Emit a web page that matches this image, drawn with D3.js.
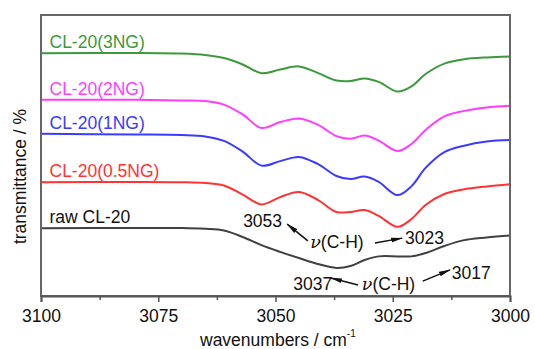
<!DOCTYPE html>
<html>
<head>
<meta charset="utf-8">
<script src="https://cdn.jsdelivr.net/npm/d3@7"></script>
<style>
  html, body { margin: 0; padding: 0; background: #fff; }
  svg { display: block; font-family: "Liberation Sans", Arial, sans-serif; }
</style>
</head>
<body>
<svg id="canvas" width="535" height="349"></svg>
<script>
// wavenumber grid (cm-1) shared by every spectrum
var wavenumbers = [3100, 3080, 3070, 3065, 3061, 3057, 3053, 3049, 3045, 3041, 3037,
  3034, 3031, 3028, 3024, 3021, 3018, 3014, 3010, 3005, 3000];

// transmittance (arbitrary, offset)
var rawCL20 = [24.1, 24.2, 24.2, 23.9, 23.3, 21.0, 18.1, 15.7, 13.5, 11.4, 10.0,
  10.7, 12.8, 14.1, 14.1, 14.1, 15.3, 17.8, 19.8, 20.8, 21.5];
var cl20ng05 = [40.5, 40.6, 40.5, 40.2, 39.3, 36.1, 32.6, 35.2, 37.0, 34.2, 29.9,
  29.9, 30.6, 28.5, 24.6, 27.4, 32.4, 36.3, 37.9, 39.0, 39.8];
var cl20ng1 = [57.7, 57.5, 57.3, 56.8, 55.2, 51.4, 46.4, 48.0, 49.5, 47.0, 42.7,
  41.6, 42.5, 40.6, 35.9, 39.1, 45.6, 51.2, 53.4, 55.0, 55.5];
var cl20ng2 = [69.8, 69.8, 69.6, 69.4, 68.1, 64.6, 59.8, 61.9, 63.2, 61.0, 56.9,
  56.0, 57.1, 55.3, 51.6, 54.1, 59.1, 63.9, 65.8, 67.1, 67.7];
var cl20ng3 = [86.4, 86.5, 86.3, 85.8, 84.7, 82.4, 79.3, 80.6, 81.7, 79.4, 76.7,
  76.5, 77.4, 76.2, 72.8, 74.6, 79.0, 82.7, 84.2, 84.9, 85.2];

var seriesNames = ['raw CL-20', 'CL-20(0.5NG)', 'CL-20(1NG)', 'CL-20(2NG)', 'CL-20(3NG)'];
var seriesValues = [rawCL20, cl20ng05, cl20ng1, cl20ng2, cl20ng3];
var seriesColors = ['#404040', '#ff3333', '#3b3bff', '#ff3cff', '#3c9a3c'];

var xTicks = [3100, 3075, 3050, 3025, 3000];
var xMinorTicks = [3087.5, 3062.5, 3037.5, 3012.5];

// peak annotations, in data units: [wavenumber, transmittance]
var annoTexts = [
  {text: '3053', at: [3056.9, 24.6]},
  {text: 'nu', at: [3042.6, 17.1]},
  {text: '3023', at: [3022.4, 18.5]},
  {text: '3037', at: [3046.2, 2.1]},
  {text: 'nu', at: [3031.6, 2.1]},
  {text: '3017', at: [3012.4, 5.9]},
];
var annoArrows = [
  [[3043.1, 19.6], [3047.5, 25.6]],
  [[3028.8, 18.9], [3023.0, 20.6]],
  [[3032.4, 3.9], [3038.2, 6.4]],
  [[3018.6, 5.3], [3012.8, 9.3]],
];

var svg = d3.select('#canvas');
var plotLeft = 41, plotRight = 510, plotTop = 15, plotBottom = 296;

var x = d3.scaleLinear().domain([3100, 3000]).range([plotLeft, plotRight]);
var y = d3.scaleLinear().domain([0, 100]).range([plotBottom, plotTop]);

svg.append('defs').append('marker')
  .attr('id', 'head')
  .attr('viewBox', '0 0 12 6')
  .attr('refX', 11)
  .attr('refY', 3)
  .attr('markerWidth', 12)
  .attr('markerHeight', 6)
  .attr('markerUnits', 'userSpaceOnUse')
  .attr('orient', 'auto')
  .append('path')
  .attr('d', 'M0,0.6 L12,3 L0,5.4 Z')
  .attr('fill', '#111');

// spectra
var line = d3.line()
  .x(function(d, i) { return x(wavenumbers[i]); })
  .y(function(d) { return y(d); })
  .curve(d3.curveCatmullRom.alpha(0.5));

svg.append('g').selectAll('path')
  .data(seriesValues)
  .enter()
  .append('path')
  .attr('d', line)
  .attr('fill', 'none')
  .attr('stroke', function(d, i) { return seriesColors[i]; })
  .attr('stroke-width', 2);

// series labels sit just above the flat left part of each curve
svg.append('g').selectAll('text')
  .data(seriesNames)
  .enter()
  .append('text')
  .attr('x', plotLeft + 8.5)
  .attr('y', function(d, i) { return y(seriesValues[i][0]) - 5; })
  .attr('fill', function(d, i) { return i === 0 ? '#111' : seriesColors[i]; })
  .style('font-size', '17.5px')
  .text(function(d) { return d; });

// frame
svg.append('rect')
  .attr('x', plotLeft)
  .attr('y', plotTop)
  .attr('width', plotRight - plotLeft)
  .attr('height', plotBottom - plotTop)
  .attr('fill', 'none')
  .attr('stroke', '#666')
  .attr('stroke-width', 2);

// bottom axis
var xAxis = svg.append('g')
  .attr('transform', 'translate(0,' + plotBottom + ')')
  .call(d3.axisBottom(x).tickValues(xTicks).tickSize(6).tickPadding(8).tickFormat(d3.format('d')));
xAxis.select('.domain').attr('stroke', '#555').attr('stroke-width', 2);
xAxis.selectAll('.tick line').attr('stroke', '#555').attr('stroke-width', 1.5);
xAxis.selectAll('text').style('font-size', '17.5px').attr('fill', '#111')
  .style('font-family', '"Liberation Sans", Arial, sans-serif');

var xMinor = svg.append('g')
  .attr('transform', 'translate(0,' + plotBottom + ')')
  .call(d3.axisBottom(x).tickValues(xMinorTicks).tickSize(4).tickFormat(''));
xMinor.select('.domain').remove();
xMinor.selectAll('.tick line').attr('stroke', '#555').attr('stroke-width', 1.5);

// axis titles
var xt = svg.append('text')
  .attr('x', 200)
  .attr('y', 346)
  .attr('fill', '#111')
  .style('font-size', '17.5px')
  .text('wavenumbers / cm');
xt.append('tspan').attr('dy', -9).style('font-size', '10px').text('-1');

svg.append('text')
  .attr('transform', 'translate(25.5,' + ((plotTop + plotBottom) / 2 + 21) + ') rotate(-90)')
  .attr('text-anchor', 'middle')
  .attr('fill', '#111')
  .style('font-size', '17.5px')
  .text('transmittance / %');

// annotations
var ann = svg.append('g').style('font-size', '17.5px').attr('fill', '#111');
annoTexts.forEach(function(a) {
  var t = ann.append('text')
    .attr('x', x(a.at[0]))
    .attr('y', y(a.at[1]));
  if (a.text === 'nu') {
    t.append('tspan').style('font-style', 'italic').style('font-family', '"DejaVu Serif", serif').text('\u03bd');
    t.append('tspan').text('(C-H)');
  } else {
    t.text(a.text);
  }
});
ann.selectAll('path')
  .data(annoArrows)
  .enter()
  .append('path')
  .attr('d', function(d) {
    return 'M' + x(d[0][0]) + ',' + y(d[0][1]) + 'L' + x(d[1][0]) + ',' + y(d[1][1]);
  })
  .attr('stroke', '#111')
  .attr('stroke-width', 1.5)
  .attr('fill', 'none')
  .attr('marker-end', 'url(#head)');
</script>
</body>
</html>
